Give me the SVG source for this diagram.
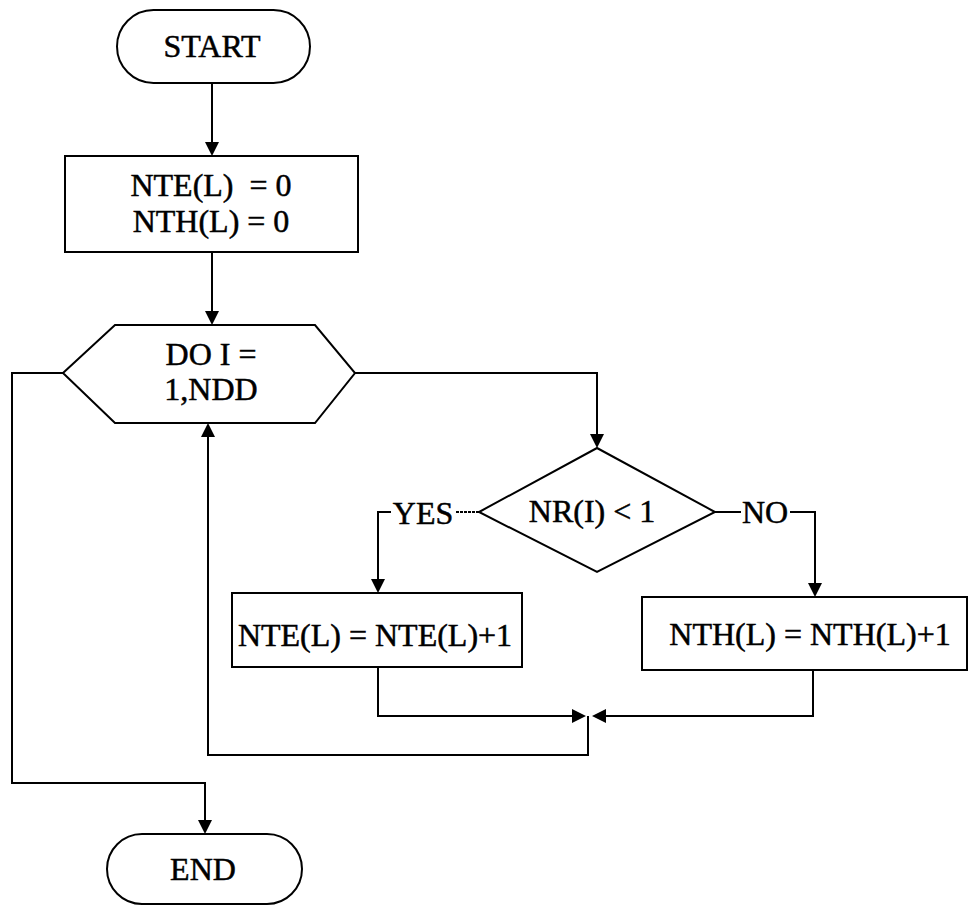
<svg xmlns="http://www.w3.org/2000/svg" width="976" height="908" viewBox="0 0 976 908">
<defs>
<style>
.s{fill:#fff;stroke:#000;stroke-width:2}
.c{fill:none;stroke:#000;stroke-width:2}
.a{fill:#000}
.t{font-family:"Liberation Serif","Times New Roman",serif;font-size:32px;fill:#000;stroke:#000;stroke-width:0.5;text-anchor:middle;white-space:pre}
</style>
</defs>
<rect width="976" height="908" fill="#fff"/>
<g id="connectors">
<line class="c" x1="212" y1="83" x2="212" y2="143"/>
<path class="a" d="M205,142 L219,142 L212,156 Z"/>
<line class="c" x1="212" y1="252" x2="212" y2="312"/>
<path class="a" d="M205,311 L219,311 L212,325 Z"/>
<polyline class="c" points="355,373 597,373 597,436"/>
<path class="a" d="M590,434 L604,434 L597,448 Z"/>
<line class="c" x1="479" y1="512" x2="455" y2="512" stroke-dasharray="3,1"/>
<polyline class="c" points="391,512 378,512 378,580"/>
<path class="a" d="M371,579 L385,579 L378,593 Z"/>
<line class="c" x1="715" y1="512" x2="741" y2="512"/>
<polyline class="c" points="790,512 815,512 815,584"/>
<path class="a" d="M808,583 L822,583 L815,597 Z"/>
<polyline class="c" points="378,667 378,716 574,716"/>
<path class="a" d="M572,709 L572,723 L586,716 Z"/>
<polyline class="c" points="813,670 813,716 604,716"/>
<path class="a" d="M606,709 L606,723 L592,716 Z"/>
<polyline class="c" points="588,716 588,755 208,755 208,436"/>
<path class="a" d="M201,437 L215,437 L208,423 Z"/>
<polyline class="c" points="63,373 12,373 12,783 205,783 205,822"/>
<path class="a" d="M198,820 L212,820 L205,834 Z"/>
<text class="t" x="423" y="524">YES</text>
<text class="t" x="765" y="523">NO</text>
</g>
<g id="start">
<rect class="s" x="117" y="10" width="193" height="73" rx="36.5"/>
<text class="t" x="212" y="57">START</text>
</g>
<g id="init">
<rect class="s" x="65" y="156" width="293" height="96"/>
<text class="t" x="211" y="196">NTE(L)  = 0</text>
<text class="t" x="211" y="232">NTH(L) = 0</text>
</g>
<g id="loop">
<polygon class="s" points="63,373 115,325 315,325 355,373 315,423 115,423"/>
<text class="t" x="211" y="365">DO I =</text>
<text class="t" x="211" y="400">1,NDD</text>
</g>
<g id="cond">
<polygon class="s" points="597,448 715,512 597,572 479,512"/>
<text class="t" x="592" y="522">NR(I) &lt; 1</text>
</g>
<g id="yes">
<rect class="s" x="232" y="593" width="290" height="74"/>
<text class="t" x="375" y="646">NTE(L) = NTE(L)+1</text>
</g>
<g id="no">
<rect class="s" x="642" y="597" width="325" height="73"/>
<text class="t" x="810" y="645">NTH(L) = NTH(L)+1</text>
</g>
<g id="end">
<rect class="s" x="107" y="834" width="195" height="70" rx="35"/>
<text class="t" x="203" y="880">END</text>
</g>
</svg>
